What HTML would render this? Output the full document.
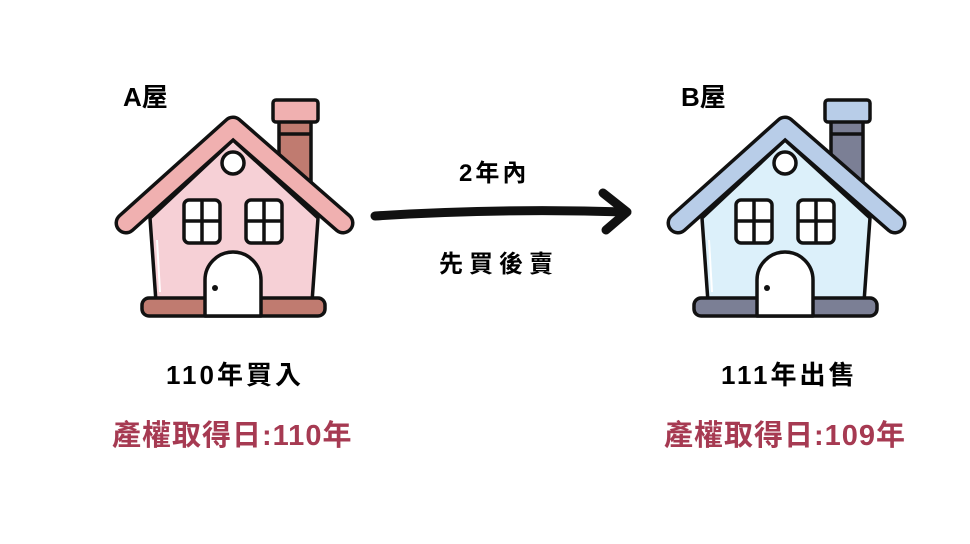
<!DOCTYPE html>
<html><head><meta charset="utf-8"><style>
html,body{margin:0;padding:0;background:#fff;}
body{width:970px;height:544px;position:relative;overflow:hidden;font-family:"Liberation Sans","Noto Sans CJK TC",sans-serif;}
.t{position:absolute;font-weight:bold;white-space:nowrap;}
</style></head><body>
<svg width="970" height="544" style="position:absolute;left:0;top:0">
<!-- House A -->
<g stroke="#111" stroke-width="3.5" stroke-linejoin="round">
  <rect x="279" y="118" width="32" height="75" fill="#c07b70"/>
  <line x1="279" y1="134" x2="311" y2="134"/>
  <rect x="273" y="100" width="45" height="22" rx="3" fill="#f0b0b0"/>
  <polygon points="233,140 150,218 156,302 312,302 318,218" fill="#f6d0d6"/>
  <line x1="157" y1="240" x2="160" y2="292" stroke="#fff" stroke-width="2"/>
  <polyline points="126,223 233,127 343,223" fill="none" stroke-width="23" stroke-linecap="round"/>
  <polyline points="126,223 233,127 343,223" fill="none" stroke="#f0b0b0" stroke-width="16" stroke-linecap="round"/>
  <circle cx="233" cy="163" r="11" fill="#fff"/>
  <rect x="184" y="200" width="36" height="43" rx="5" fill="#fff"/>
  <line x1="202" y1="200" x2="202" y2="243"/><line x1="184" y1="221" x2="220" y2="221"/>
  <rect x="246" y="200" width="36" height="43" rx="5" fill="#fff"/>
  <line x1="264" y1="200" x2="264" y2="243"/><line x1="246" y1="221" x2="282" y2="221"/>
  <rect x="142" y="298" width="183" height="18" rx="7" fill="#c07b70"/>
  <path d="M205,316 V280 A28,28 0 0 1 261,280 V316 Z" fill="#fff"/>
  <circle cx="215" cy="288" r="3" fill="#111" stroke="none"/>
</g>
<!-- House B -->
<g transform="translate(552,0)" stroke="#111" stroke-width="3.5" stroke-linejoin="round">
  <rect x="279" y="118" width="32" height="75" fill="#7b7f95"/>
  <line x1="279" y1="134" x2="311" y2="134"/>
  <rect x="273" y="100" width="45" height="22" rx="3" fill="#b8cde8"/>
  <polygon points="233,140 150,218 156,302 312,302 318,218" fill="#dcf0fa"/>
  <line x1="157" y1="240" x2="160" y2="292" stroke="#fff" stroke-width="2"/>
  <polyline points="126,223 233,127 343,223" fill="none" stroke-width="23" stroke-linecap="round"/>
  <polyline points="126,223 233,127 343,223" fill="none" stroke="#b8cde8" stroke-width="16" stroke-linecap="round"/>
  <circle cx="233" cy="163" r="11" fill="#fff"/>
  <rect x="184" y="200" width="36" height="43" rx="5" fill="#fff"/>
  <line x1="202" y1="200" x2="202" y2="243"/><line x1="184" y1="221" x2="220" y2="221"/>
  <rect x="246" y="200" width="36" height="43" rx="5" fill="#fff"/>
  <line x1="264" y1="200" x2="264" y2="243"/><line x1="246" y1="221" x2="282" y2="221"/>
  <rect x="142" y="298" width="183" height="18" rx="7" fill="#7b7f95"/>
  <path d="M205,316 V280 A28,28 0 0 1 261,280 V316 Z" fill="#fff"/>
  <circle cx="215" cy="288" r="3" fill="#111" stroke="none"/>
</g>
<!-- Arrow -->
<path d="M375,216 Q500,208 626,212" fill="none" stroke="#111" stroke-width="9" stroke-linecap="round"/>
<path d="M603,193 L627,212 L606,230" fill="none" stroke="#111" stroke-width="9" stroke-linecap="round" stroke-linejoin="round"/>
</svg>
<div class="t" style="left:123px;top:77px;font-size:26px;">A屋</div>
<div class="t" style="left:681px;top:77px;font-size:26px;">B屋</div>
<div class="t" style="left:459px;top:153px;font-size:24px;letter-spacing:3px;">2年內</div>
<div class="t" style="left:439px;top:244px;font-size:24px;letter-spacing:6px;">先買後賣</div>
<div class="t" style="left:166px;top:355px;font-size:26px;letter-spacing:3px;">110年買入</div>
<div class="t" style="left:721px;top:355px;font-size:26px;letter-spacing:3px;">111年出售</div>
<div class="t" style="left:112px;top:412px;font-size:29px;color:#a63a52;letter-spacing:1px;">產權取得日:110年</div>
<div class="t" style="left:664px;top:412px;font-size:29px;color:#a63a52;letter-spacing:1px;">產權取得日:109年</div>
</body></html>
